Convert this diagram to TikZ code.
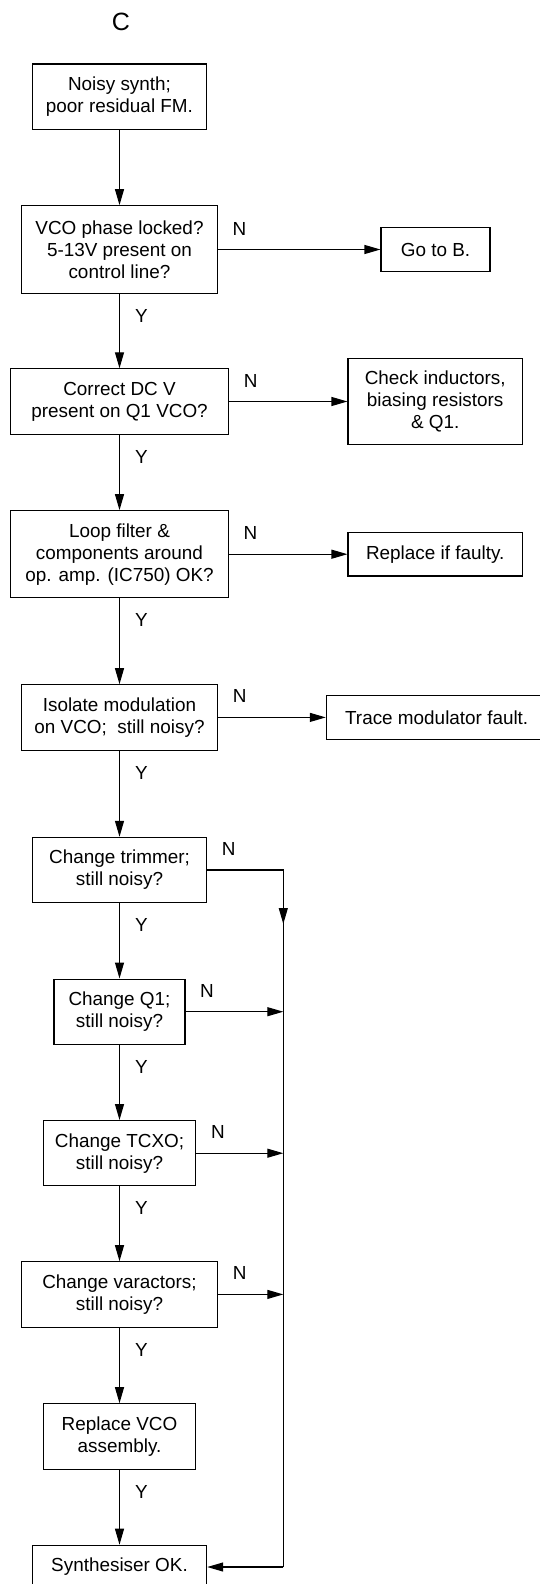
\documentclass[tikz,border=0pt]{standalone}
\usepackage{fontspec}
\setmainfont{Liberation Sans}
\usetikzlibrary{arrows.meta}
\begin{document}
\begin{tikzpicture}[x=1pt,y=-1pt,
  txt/.style={font=\fontsize{18.9}{22}\selectfont},
  box/.style={txt, draw, line width=1.1pt, inner sep=0pt, align=center},
  onel/.style={box, minimum height=43.5pt},
  twol/.style={box, minimum height=65.3pt},
  threel/.style={box, minimum height=87pt},
  wire/.style={line width=1.1pt},
  link/.style={wire, -{Triangle[length=16pt,width=9pt]}},
  lbl/.style={txt, inner sep=0pt}]
\clip (0,0) rectangle (540,1584);
\useasboundingbox (0,0) rectangle (540,1584);

% title
\node[font=\fontsize{25}{30}\selectfont, inner sep=0pt] (title) at (121,22) {C};

% main column
\node[twol, minimum width=174.7pt] (b1) at (119.5,96.7) {Noisy synth;\\poor residual FM.};
\node[threel, minimum width=196pt, minimum height=87.6pt] (b2) at (119.5,249.5) {VCO phase locked?\\5-13V present on\\control line?};
\node[twol, minimum width=218.4pt] (b3) at (119.5,401.5) {Correct DC V\\present on Q1 VCO?};
\node[threel, minimum width=217.6pt] (b4) at (119.5,554.2) {Loop filter \&\\components around\\op. amp. (IC750) OK?};
\node[twol, minimum width=196.2pt] (b5) at (119.5,717.4) {Isolate modulation\\on VCO;\ \ still noisy?};
\node[twol, minimum width=174.3pt] (b6) at (119.5,870) {Change trimmer;\\still noisy?};
\node[twol, minimum width=131pt] (b7) at (119.5,1011.7) {Change Q1;\\still noisy?};
\node[twol, minimum width=152.6pt] (b8) at (119.5,1153.2) {Change TCXO;\\still noisy?};
\node[twol, minimum width=196.2pt] (b9) at (119.5,1294.4) {Change varactors;\\still noisy?};
\node[twol, minimum width=152.6pt] (b10) at (119.5,1436.4) {Replace VCO\\assembly.};
\node[onel, minimum width=174.3pt] (b11) at (119.5,1567) {Synthesiser OK.};

% side outcomes
\node[onel, minimum width=109pt] (goB) at (435.5,249.5) {Go to B.};
\node[threel, minimum width=174.4pt, minimum height=86.7pt] (chk) at (435.2,401.5) {Check inductors,\\biasing resistors\\\& Q1.};
\node[onel, minimum width=174.4pt] (rep) at (435.2,554.2) {Replace if faulty.};
\node[onel, minimum width=220.7pt] (trace) at (436.7,717.4) {Trace modulator fault.};

% yes path
\draw[link] (b1) -- (b2);
\draw[link] (b2) -- (b3);
\draw[link] (b3) -- (b4);
\draw[link] (b4) -- (b5);
\draw[link] (b5) -- (b6);
\draw[link] (b6) -- (b7);
\draw[link] (b7) -- (b8);
\draw[link] (b8) -- (b9);
\draw[link] (b9) -- (b10);
\draw[link] (b10) -- (b11);

% no branches
\draw[link] (b2.east) -- (b2.east -| goB.west);
\draw[link] (b3.east) -- (b3.east -| chk.west);
\draw[link] (b4.east) -- (b4.east -| rep.west);
\draw[link] (b5.east) -- (b5.east -| trace.west);

% return bus on the right
\coordinate (busTop) at (283.3,870);
\coordinate (busMid) at (283.3,924);
\draw[wire] (b6.east) -- (busTop) -- (busTop |- b11.east);
\draw[link] (busTop) -- (busMid);
\draw[link] (b7.east) -- (b7.east -| busTop);
\draw[link] (b8.east) -- (b8.east -| busTop);
\draw[link] (b9.east) -- (b9.east -| busTop);
\draw[link] (busTop |- b11.east) -- (b11.east);

% Y labels
\foreach \n in {b2,b3,b4,b5,b6,b7,b8,b9,b10}
  \node[lbl] (y-\n) at ([xshift=22pt,yshift=-22pt]\n.south) {Y};

% N labels
\foreach \n in {b2,b3,b4,b5,b6,b7,b8,b9}
  \node[lbl] (n-\n) at ([xshift=21.5pt,yshift=21pt]\n.east) {N};
\end{tikzpicture}
\end{document}
